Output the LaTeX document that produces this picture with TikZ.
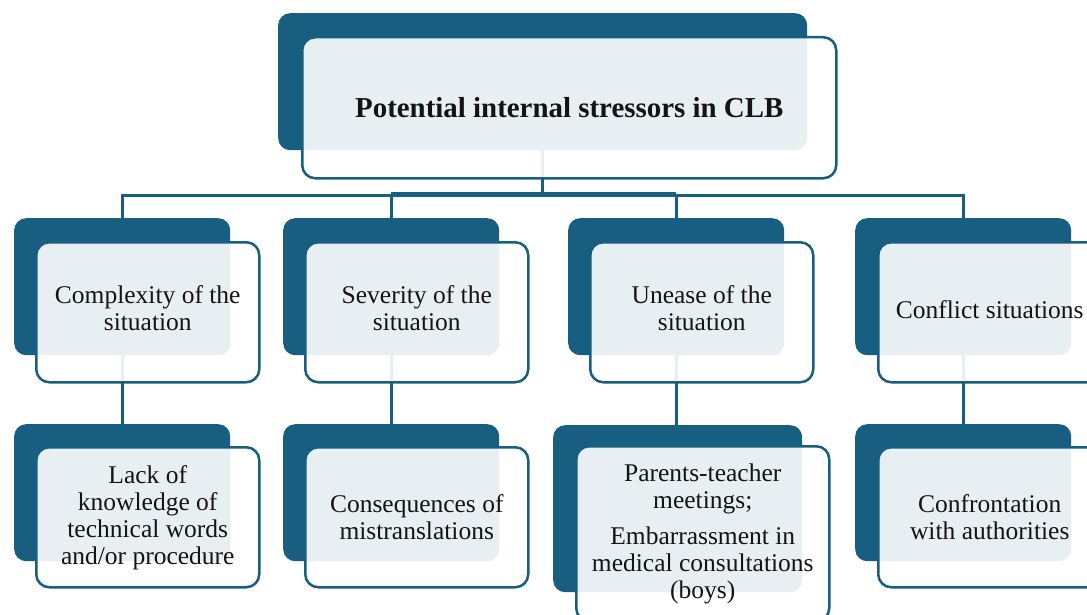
\documentclass[tikz,border=0pt]{standalone}
\usepackage{fontspec}
\setmainfont{Liberation Serif}
\definecolor{darkb}{RGB}{24,94,128}
\definecolor{txt}{RGB}{20,20,20}
\begin{document}
\begin{tikzpicture}[x=1pt,y=-1pt,
  darkbox/.style={draw=none,fill=darkb,rounded corners=12pt,inner sep=0pt,anchor=north west},
  frontbox/.style={draw=darkb,line width=2.5pt,fill=white,fill opacity=0.9,text opacity=1,
    rounded corners=13pt,inner sep=0pt,anchor=north west,align=center,text=txt,
    font=\fontsize{25.5}{27}\selectfont},
  conn/.style={draw=darkb,line width=3pt}]
\clip (0,0) rectangle (1087,615);
\fill[white] (0,0) rectangle (1087,615);
% dark back boxes
\node[darkbox,minimum width=529pt,minimum height=137pt] (topd) at (278,13) {};
\node[darkbox,minimum width=216pt,minimum height=137pt] (c1d) at (14,218) {};
\node[darkbox,minimum width=216pt,minimum height=137pt] (c2d) at (283,218) {};
\node[darkbox,minimum width=216pt,minimum height=137pt] (c3d) at (568,218) {};
\node[darkbox,minimum width=216pt,minimum height=137pt] (c4d) at (855,218) {};
\node[darkbox,minimum width=216pt,minimum height=137pt] (g1d) at (14,424) {};
\node[darkbox,minimum width=216pt,minimum height=137pt] (g2d) at (283,424) {};
\node[darkbox,minimum width=249pt,minimum height=167pt] (g3d) at (553,425) {};
\node[darkbox,minimum width=216pt,minimum height=137pt] (g4d) at (855,424) {};
% connectors
\coordinate (bus) at (0,195);
\coordinate (busb) at (0,193);
\draw[conn] (topd.south) -- (topd.south |- bus);
\draw[conn] (c1d.north) -- (c1d.north |- bus) -- (c4d.north |- bus) -- (c4d.north);
\draw[conn] (c2d.north |- busb) -- (c3d.north |- busb);
\draw[conn] (c2d.north) -- (c2d.north |- bus);
\draw[conn] (c3d.north) -- (c3d.north |- bus);
\draw[conn] (c1d.south) -- (g1d.north);
\draw[conn] (c2d.south) -- (g2d.north);
\draw[conn] (c3d.south) -- (c3d.south |- g3d.north);
\draw[conn] (c4d.south) -- (g4d.north);
% front boxes with text
\node[frontbox,minimum width=534pt,minimum height=141pt,font=\fontsize{28.9}{30}\selectfont\bfseries] (topf) at (301,36) {Potential internal stressors in CLB};
\node[frontbox,minimum width=223pt,minimum height=140pt] (c1f) at (35,241) {Complexity of the\\situation\rule[-9pt]{0pt}{1pt}};
\node[frontbox,minimum width=223pt,minimum height=140pt] (c2f) at (304,241) {Severity of the\\situation\rule[-9pt]{0pt}{1pt}};
\node[frontbox,minimum width=223pt,minimum height=140pt] (c3f) at (589,241) {Unease of the\\situation\rule[-9pt]{0pt}{1pt}};
\node[frontbox,minimum width=223pt,minimum height=140pt] (c4f) at (877,241) {Conflict situations\rule[-6pt]{0pt}{1pt}};
\node[frontbox,minimum width=223pt,minimum height=140pt] (g1f) at (35,446) {Lack of\\knowledge of\\technical words\\and/or procedure};
\node[frontbox,minimum width=223pt,minimum height=140pt] (g2f) at (304,446) {Consequences of\\mistranslations};
\node[frontbox,minimum width=253pt,minimum height=175pt] (g3f) at (575,445) {Parents-teacher\\meetings;\\[9pt]Embarrassment in\\medical consultations\\(boys)};
\node[frontbox,minimum width=223pt,minimum height=140pt] (g4f) at (877,446) {Confrontation\\with authorities};
\end{tikzpicture}
\end{document}
